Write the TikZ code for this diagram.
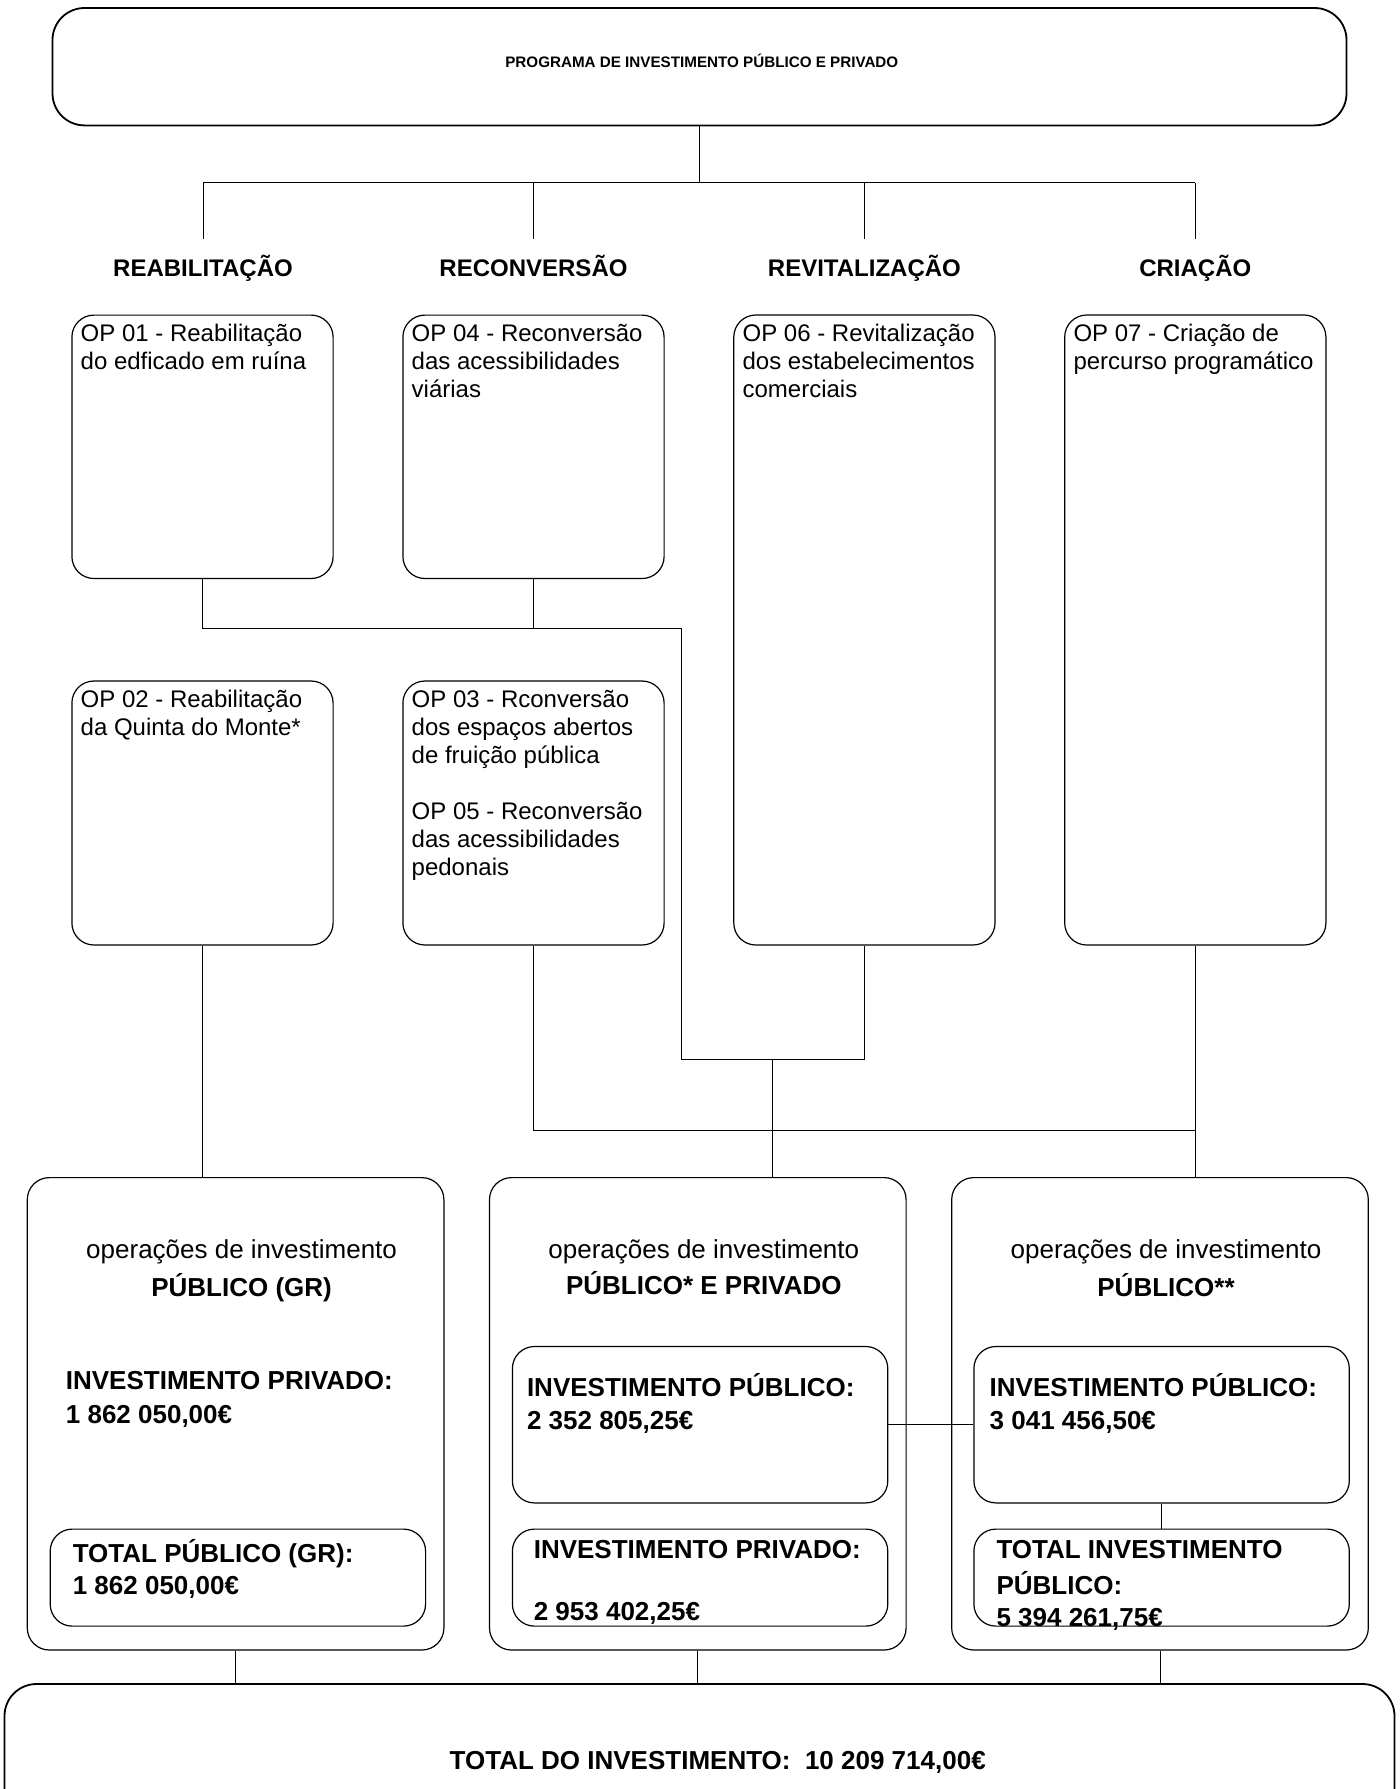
\documentclass[tikz,border=0pt]{standalone}
\usepackage{fontspec}
\setmainfont{Liberation Sans}
\usetikzlibrary{positioning}

\begin{document}
\begin{tikzpicture}[
  x=0.5pt, y=-0.5pt,
  wire/.style={line width=0.5pt},
  bigbox/.style={draw, line width=0.9pt, rounded corners=16pt, inner sep=0pt},
  opbox/.style={draw, line width=0.6pt, rounded corners=11pt, minimum width=130.6pt, inner sep=0pt},
  grpbox/.style={draw, line width=0.6pt, rounded corners=11pt, minimum width=208.3pt, minimum height=236.2pt, inner sep=0pt},
  subbox/.style={draw, line width=0.6pt, rounded corners=11pt, minimum width=187.7pt, inner sep=0pt},
  optext/.style={font=\fontsize{12}{14}\selectfont, align=left, inner sep=0pt},
  catlbl/.style={font=\bfseries\fontsize{12}{14}\selectfont, text height=10.8pt, text depth=2.6pt, inner xsep=0pt, inner ysep=7.5pt},
  grptitle/.style={font=\fontsize{13}{19}\selectfont, align=center, inner sep=0pt},
  sumtext/.style={font=\bfseries\fontsize{13}{17}\selectfont, align=left, inner sep=0pt},
]
\clip (0,0) rectangle (1399,1789);

% programme header
\node[bigbox, minimum width=647pt, minimum height=58.7pt] (prog) at (699.5,66.7) {};
\node[font=\bfseries\fontsize{7.6}{9}\selectfont, inner sep=0pt] (proglbl) at (701.8,60.5)
  {PROGRAMA DE INVESTIMENTO PÚBLICO E PRIVADO};

% the four strands
\node[catlbl] (cat1) at (203,268)    {REABILITAÇÃO};
\node[catlbl] (cat2) at (533.5,268)  {RECONVERSÃO};
\node[catlbl] (cat3) at (864.4,268)  {REVITALIZAÇÃO};
\node[catlbl] (cat4) at (1195.3,268) {CRIAÇÃO};
\coordinate (hub) at (699.5,182.6);
\draw[wire] (prog.south) -- (hub);
\draw[wire] (cat1 |- hub) -- (cat4 |- hub);
\foreach \c in {cat1,cat2,cat3,cat4}
  \draw[wire] (\c |- hub) -- (\c.north);

% operations
\node[opbox, minimum height=131.7pt] (op1) at (202.5,446.8) {};
\node[opbox, minimum height=131.7pt] (op4) at (533.5,446.8) {};
\node[opbox, minimum height=315pt]   (op6) at (864.4,630)   {};
\node[opbox, minimum height=315pt]   (op7) at (1195.3,630)  {};
\node[opbox, minimum height=132pt]   (op2) at (202.5,813)   {};
\node[opbox, minimum height=132pt]   (op3) at (533.5,813)   {};

\node[optext, below right=4.7pt and 4.5pt of op1.north west] (op1txt)
  {OP 01 - Reabilitação\\do edficado em ruína};
\node[optext, below right=4.7pt and 4.5pt of op4.north west] (op4txt)
  {OP 04 - Reconversão\\das acessibilidades\\viárias};
\node[optext, below right=4.7pt and 4.5pt of op6.north west] (op6txt)
  {OP 06 - Revitalização\\dos estabelecimentos\\comerciais};
\node[optext, below right=4.7pt and 4.5pt of op7.north west] (op7txt)
  {OP 07 - Criação de\\percurso programático};
\node[optext, below right=4.7pt and 4.5pt of op2.north west] (op2txt)
  {OP 02 - Reabilitação\\da Quinta do Monte*};
\node[optext, below right=4.7pt and 4.5pt of op3.north west] (op3txt)
  {OP 03 - Rconversão\\dos espaços abertos\\de fruição pública\\[14pt]OP 05 - Reconversão\\das acessibilidades\\pedonais};

% investment groups
\node[grpbox] (lbox) at (235.6,1413.8) {};
\node[grpbox] (mbox) at (697.8,1413.8) {};
\node[grpbox] (rbox) at (1160,1413.8)  {};

\node[grptitle, below=31pt of lbox.north, xshift=3pt] (ltitle)
  {operações de investimento\\\textbf{PÚBLICO (GR)}};
\node[grptitle, below=31pt of mbox.north, xshift=3pt] (mtitle)
  {operações de investimento\\[-1pt]\textbf{PÚBLICO* E PRIVADO}};
\node[grptitle, below=31pt of rbox.north, xshift=3pt] (rtitle)
  {operações de investimento\\\textbf{PÚBLICO**}};

\node[sumtext, below right=96.9pt and 19.4pt of lbox.north west] (lpriv)
  {INVESTIMENTO PRIVADO:\\1 862 050,00€};

\node[subbox, minimum height=48.5pt] (lsum)  at (237.9,1577.6) {};
\node[subbox, minimum height=78.2pt] (mpub)  at (700.1,1424.7) {};
\node[subbox, minimum height=48.5pt] (mpriv) at (700.1,1577.6) {};
\node[subbox, minimum height=78.2pt] (rpub)  at (1161.6,1424.7) {};
\node[subbox, minimum height=48.5pt] (rsum)  at (1161.6,1577.6) {};

\node[sumtext, below right=5.5pt and 11.4pt of lsum.north west] (lsumtxt)
  {TOTAL PÚBLICO (GR):\\[-1pt]1 862 050,00€};
\node[sumtext, below right=13.5pt and 7.4pt of mpub.north west] (mpubtxt)
  {INVESTIMENTO PÚBLICO:\\[-0.5pt]2 352 805,25€};
\node[sumtext, below right=5.7pt and 10.8pt of mpriv.north west] (mprivtxt)
  {INVESTIMENTO PRIVADO:\\[13.8pt]2 953 402,25€};
\node[sumtext, below right=13.5pt and 8pt of rpub.north west] (rpubtxt)
  {INVESTIMENTO PÚBLICO:\\[-0.5pt]3 041 456,50€};
\node[sumtext, below right=5.7pt and 11.4pt of rsum.north west] (rsumtxt)
  {TOTAL INVESTIMENTO\\[1.2pt]PÚBLICO:\\[-1pt]5 394 261,75€};

\draw[wire] (mpub.east) -- (rpub.west);
\draw[wire] (rpub.south) -- (rsum.north);

% operations -> groups
\coordinate (bend1) at (681,628.8);
\coordinate (bend2) at (681,1059);
\coordinate (join6) at (772.5,1059);
\coordinate (lane3) at (0,1130.8);
\draw[wire] (op1.south) |- (bend1) -- (bend2) -| (op6.south);
\draw[wire] (op4.south) -- (op4.south |- bend1);
\draw[wire] (join6) -- (join6 |- mbox.north);
\draw[wire] (op3.south) |- (op7.south |- lane3);
\draw[wire] (op7.south) -- (op7.south |- rbox.north);
\draw[wire] (op2.south) -- (op2.south |- lbox.north);

% grand total
\node[bigbox, minimum width=695pt, minimum height=74.5pt] (total) at (699.5,1758.5) {};
\node[font=\bfseries\fontsize{13}{15}\selectfont, inner sep=0pt] (totallbl) at (717.7,1762)
  {TOTAL DO INVESTIMENTO:~~10 209 714,00€};
\foreach \g in {lbox,mbox,rbox}
  \draw[wire] (\g.south) -- (\g.south |- total.north);
\end{tikzpicture}
\end{document}
